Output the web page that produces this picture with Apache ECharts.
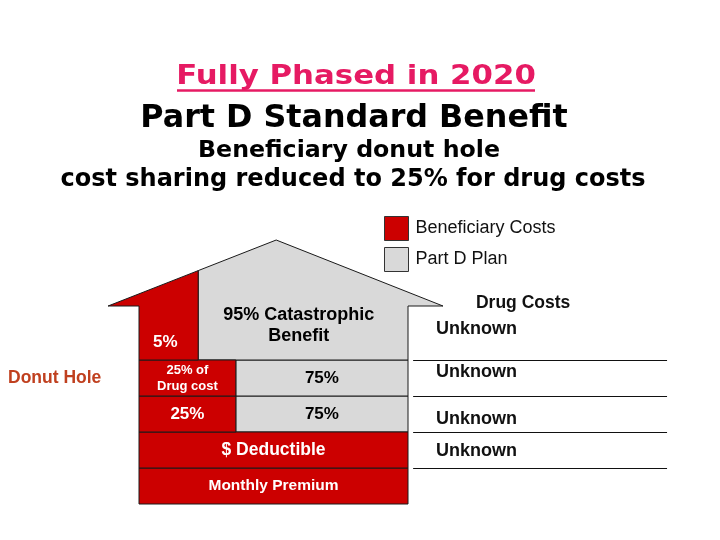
<!DOCTYPE html>
<html>
<head>
<meta charset="utf-8">
<script src="https://cdn.jsdelivr.net/npm/echarts@6/dist/echarts.min.js"></script>
<style>
  html, body { margin: 0; padding: 0; background: #ffffff; }
  #chart { width: 720px; height: 540px; }
</style>
</head>
<body>
<div id="chart"></div>
<script>
// ---------------- data ----------------
const titleLines = ['Fully Phased in 2020', 'Part D Standard Benefit', 'Beneficiary donut hole', 'cost sharing reduced to 25% for drug costs'];
const tiers = ['Monthly Premium', 'Deductible', 'Initial Coverage', 'Donut Hole', 'Catastrophic'];
const tierSpan = [1, 1, 1, 1, 1.5];                 // relative band heights (axis units)
const beneficiaryShown = [100, 100, 36, 36, 22];    // share of the house width drawn red
const beneficiaryLabels = ['Monthly Premium', '$ Deductible', '25%', '25% of\nDrug cost', '5%'];
const planLabels = ['', '', '75%', '75%', '95% Catastrophic\nBenefit'];
const drugCosts = ['', 'Unknown', 'Unknown', 'Unknown', 'Unknown'];
const sideLabels = ['', '', '', 'Donut Hole', ''];
const drugCostHeader = 'Drug Costs';
const legendNames = ['Beneficiary Costs', 'Part D Plan'];

// ---------------- styles / layout ----------------
const RED = '#cc0000';
const GRAY = '#d9d9d9';
const EDGE = '#1a1a1a';
const PINK = '#e61a63';
const SANS = '"Liberation Sans", Arial, sans-serif';
const base = tierSpan.map((s, i) => tierSpan.slice(0, i).reduce((a, b) => a + b, 0));
const LAST = tiers.length - 1;
const EAVE = base[LAST] + tierSpan[LAST];
const ROOF = { left: -11.5, right: 113, apexX: 51, apexY: 7.333 };
function roofY(x) {
  if (x <= ROOF.apexX) return EAVE + (x - ROOF.left) / (ROOF.apexX - ROOF.left) * (ROOF.apexY - EAVE);
  return EAVE + (ROOF.right - x) / (ROOF.right - ROOF.apexX) * (ROOF.apexY - EAVE);
}
const benFont = [
  { fontSize: 15.5, lineHeight: 17 },
  { fontSize: 17.5, lineHeight: 20 },
  { fontSize: 17, lineHeight: 20 },
  { fontSize: 13, lineHeight: 16 },
  { fontSize: 17, lineHeight: 20 }
];
const costLabelShift = [0, -0.03, -0.14, 0.17, 0.86]; // vertical placement within each tier (axis units)

function txt(text, p, fill, size, weight, align, lh) {
  return {
    type: 'text',
    style: {
      text: text, x: p[0], y: p[1], fill: fill,
      fontSize: size, fontWeight: weight, fontFamily: SANS,
      align: align || 'center', verticalAlign: 'middle', lineHeight: lh || Math.round(size * 1.22)
    }
  };
}

function renderBeneficiary(params, api) {
  const i = api.value(0);
  const y0 = base[i], y1 = y0 + tierSpan[i], w = beneficiaryShown[i];
  const P = (x, y) => api.coord([x, y]);
  let shape;
  if (i === LAST) {
    shape = { type: 'polygon', shape: { points: [P(0, y0), P(w, y0), P(w, roofY(w)), P(ROOF.left, y1), P(0, y1)] },
      style: { fill: RED, stroke: EDGE, lineWidth: 1 } };
  } else {
    const a = P(0, y1), b = P(w, y0);
    shape = { type: 'rect', shape: { x: a[0], y: a[1], width: b[0] - a[0], height: b[1] - a[1] },
      style: { fill: RED, stroke: EDGE, lineWidth: 1 } };
  }
  const ly = i === LAST ? y0 + 0.5 : (y0 + y1) / 2;
  const lx = i === LAST ? w / 2 - 1.2 : w / 2;
  const f = benFont[i];
  return { type: 'group', children: [shape, txt(beneficiaryLabels[i], P(lx, ly), '#ffffff', f.fontSize, 'bold', 'center', f.lineHeight)] };
}

function renderPlan(params, api) {
  const i = api.value(0);
  const y0 = base[i], y1 = y0 + tierSpan[i], w = beneficiaryShown[i];
  if (w >= 100) return { type: 'group', children: [] };
  const P = (x, y) => api.coord([x, y]);
  let shape;
  if (i === LAST) {
    shape = { type: 'polygon', shape: { points: [P(w, y0), P(100, y0), P(100, y1), P(ROOF.right, y1), P(ROOF.apexX, ROOF.apexY), P(w, roofY(w))] },
      style: { fill: GRAY, stroke: EDGE, lineWidth: 1 } };
  } else {
    const a = P(w, y1), b = P(100, y0);
    shape = { type: 'rect', shape: { x: a[0], y: a[1], width: b[0] - a[0], height: b[1] - a[1] },
      style: { fill: GRAY, stroke: EDGE, lineWidth: 1 } };
  }
  const ly = i === LAST ? y0 + 0.96 : (y0 + y1) / 2;
  const lx = i === LAST ? (w + 100) / 2 - 1.6 : (w + 100) / 2;
  const size = i === LAST ? 18 : 17;
  return { type: 'group', children: [shape, txt(planLabels[i], P(lx, ly), '#000000', size, 'bold', 'center', 21)] };
}

function renderSide(params, api) {
  const i = api.value(0);
  const y0 = base[i], y1 = y0 + tierSpan[i];
  const P = (x, y) => api.coord([x, y]);
  const children = [];
  if (i > 0) {
    const a = P(101.9, y0), b = P(196.3, y0);
    const yy = Math.round(a[1]) + 0.5;
    children.push({ type: 'line', shape: { x1: a[0], y1: yy, x2: b[0], y2: yy }, style: { stroke: '#111', lineWidth: 1 } });
  }
  if (drugCosts[i]) {
    const ly = i === LAST ? y0 + costLabelShift[i] : (y0 + y1) / 2 + costLabelShift[i];
    children.push(txt(drugCosts[i], P(110.4, ly), '#111111', 18, 'bold', 'left'));
  }
  if (i === LAST) {
    children.push(txt(drugCostHeader, P(142.8, y0 + 1.58), '#111111', 17.5, 'bold', 'center'));
  }
  if (sideLabels[i]) {
    const p = P(0, (y0 + y1) / 2);
    children.push(txt(sideLabels[i], [8, p[1]], '#c0401f', 17.5, 'bold', 'left'));
  }
  return { type: 'group', children: children };
}

const tierData = tiers.map((t, i) => [i, base[i]]);

const chart = echarts.init(document.getElementById('chart'), null, { renderer: 'canvas' });
chart.setOption({
  animation: false,
  backgroundColor: '#ffffff',
  title: [
    { text: titleLines[1], left: 354, top: 103, textAlign: 'center', padding: 0,
      textStyle: { fontFamily: 'DejaVu Sans', fontWeight: 'bold', fontSize: 31.75, color: '#000000' } },
    { text: titleLines[2], left: 349, top: 139, textAlign: 'center', padding: 0,
      textStyle: { fontFamily: 'DejaVu Sans', fontWeight: 'bold', fontSize: 23.7, color: '#000000' } },
    { text: titleLines[3], left: 353, top: 168, textAlign: 'center', padding: 0,
      textStyle: { fontFamily: 'DejaVu Sans', fontWeight: 'bold', fontSize: 24, color: '#000000' } }
  ],
  graphic: [
    { type: 'text', x: 356, y: 77, scaleX: 1.185, scaleY: 1,
      style: { text: titleLines[0], fontFamily: 'DejaVu Sans', fontWeight: 'bold', fontSize: 26,
        fill: PINK, align: 'center', verticalAlign: 'middle' } },
    { type: 'line', shape: { x1: 177, y1: 90.5, x2: 535, y2: 90.5 }, style: { stroke: PINK, lineWidth: 2.5 } }
  ],
  legend: {
    data: legendNames,
    orient: 'vertical',
    left: 384, top: 216,
    padding: 0,
    itemWidth: 24, itemHeight: 24, itemGap: 6,
    icon: 'rect',
    itemStyle: { borderColor: '#333333', borderWidth: 1 },
    textStyle: { fontFamily: SANS, fontSize: 18, color: '#111111', padding: [4, 0, 0, 2] },
    selectedMode: false
  },
  grid: { left: 139, right: 312, top: 216, bottom: 36, containLabel: false },
  xAxis: { type: 'value', min: 0, max: 100, show: false },
  yAxis: { type: 'value', min: 0, max: 8, show: false },
  series: [
    { name: legendNames[1], type: 'custom', renderItem: renderPlan, data: tierData, clip: false,
      itemStyle: { color: GRAY }, z: 2 },
    { name: legendNames[0], type: 'custom', renderItem: renderBeneficiary, data: tierData, clip: false,
      itemStyle: { color: RED }, z: 3 },
    { name: 'Drug Costs', type: 'custom', renderItem: renderSide, data: tierData, clip: false, z: 4 }
  ]
});
</script>
</body>
</html>
